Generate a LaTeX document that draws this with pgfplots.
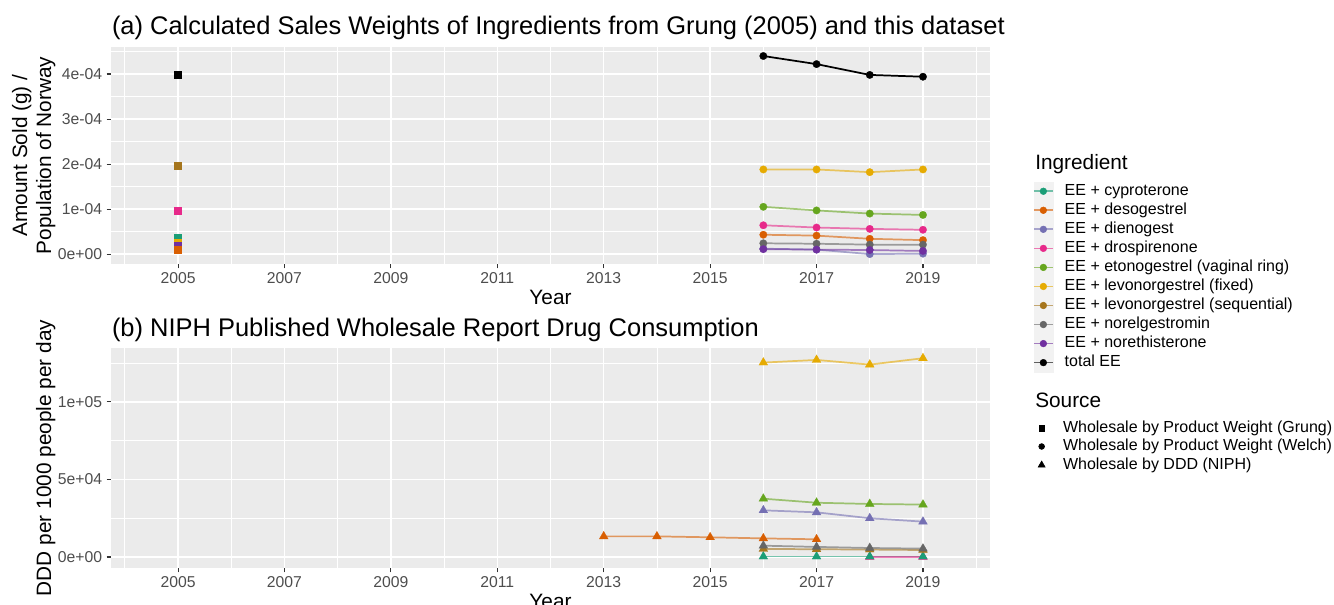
\documentclass[border=0pt]{standalone}
\usepackage{fontspec}
\setmainfont{Liberation Sans}
\usepackage{pgfplots}
\usepackage{pgfplotstable}
\pgfplotsset{compat=1.18}

\definecolor{cT}{HTML}{1B9E77}
\definecolor{cO}{HTML}{D95F02}
\definecolor{cL}{HTML}{7570B3}
\definecolor{cP}{HTML}{E7298A}
\definecolor{cG}{HTML}{66A61E}
\definecolor{cY}{HTML}{E6AB02}
\definecolor{cB}{HTML}{A6761D}
\definecolor{cR}{HTML}{666666}
\definecolor{cV}{HTML}{7030A0}
\definecolor{cK}{HTML}{000000}
\definecolor{gtick}{HTML}{333333}
\definecolor{gtext}{HTML}{4D4D4D}
\definecolor{ggbg}{HTML}{EBEBEB}
\definecolor{gkey}{HTML}{F2F2F2}

\newcommand\ftitle{\fontsize{19.1}{22}\selectfont}
\newcommand\faxis{\fontsize{15.6}{18}\selectfont}
\newcommand\ftick{\fontsize{11.8}{14}\selectfont}
\newcommand\fleg{\fontsize{12}{14}\selectfont}

% ---------- panel (a): Welch (circles) ----------
\pgfplotstableread{
x y
2016 4.40e-4
2017 4.22e-4
2018 3.98e-4
2019 3.94e-4
}\aK
\pgfplotstableread{
x y
2016 1.88e-4
2017 1.88e-4
2018 1.82e-4
2019 1.88e-4
}\aY
\pgfplotstableread{
x y
2016 1.05e-4
2017 0.97e-4
2018 0.90e-4
2019 0.87e-4
}\aG
\pgfplotstableread{
x y
2016 0.64e-4
2017 0.59e-4
2018 0.56e-4
2019 0.54e-4
}\aP
\pgfplotstableread{
x y
2016 0.43e-4
2017 0.41e-4
2018 0.34e-4
2019 0.31e-4
}\aO
\pgfplotstableread{
x y
2016 0.24e-4
2017 0.23e-4
2018 0.21e-4
2019 0.21e-4
}\aR
\pgfplotstableread{
x y
2016 0.12e-4
2017 0.10e-4
2018 0.00e-4
2019 0.01e-4
}\aL
\pgfplotstableread{
x y
2016 0.11e-4
2017 0.10e-4
2018 0.09e-4
2019 0.07e-4
}\aV
% ---------- panel (a): Grung 2005 (squares) ----------
\pgfplotstableread{
x y
2005 3.98e-4
}\gK
\pgfplotstableread{
x y
2005 1.96e-4
}\gB
\pgfplotstableread{
x y
2005 0.96e-4
}\gP
\pgfplotstableread{
x y
2005 0.36e-4
}\gT
\pgfplotstableread{
x y
2005 0.25e-4
}\gY
\pgfplotstableread{
x y
2005 0.18e-4
}\gV
\pgfplotstableread{
x y
2005 0.10e-4
}\gO
% ---------- panel (b): NIPH DDD (triangles) ----------
\pgfplotstableread{
x y
2016 125400
2017 127100
2018 124100
2019 128200
}\bY
\pgfplotstableread{
x y
2016 37600
2017 35000
2018 34200
2019 33800
}\bG
\pgfplotstableread{
x y
2016 30100
2017 28800
2018 25000
2019 22800
}\bL
\pgfplotstableread{
x y
2013 13300
2014 13300
2015 12700
2016 12000
2017 11400
}\bO
\pgfplotstableread{
x y
2016 7300
2017 6500
2018 5800
2019 5400
}\bR
\pgfplotstableread{
x y
2016 5200
2017 5000
2018 4800
2019 4500
}\bB
\pgfplotstableread{
x y
2016 300
2017 300
2018 300
2019 300
}\bT
\pgfplotstableread{
x y
2018 100
2019 100
}\bP

\pgfplotsset{
 ggpanel/.style={
  scale only axis, width=659.25pt, anchor=south west,
  axis background/.style={fill=ggbg},
  axis line style={draw=none},
  xmin=2003.74, xmax=2020.26,
  xtick={2005,2007,2009,2011,2013,2015,2017,2019},
  xticklabels={2005,2007,2009,2011,2013,2015,2017,2019},
  minor xtick={2004,2006,2008,2010,2012,2014,2016,2018,2020},
  xtick pos=bottom, ytick pos=left,
  grid=both,
  major grid style={draw=white, line width=1.1pt},
  minor grid style={draw=white, line width=0.55pt},
  tick align=outside, major tick length=3.2pt, minor tick length=0pt,
  tick style={draw=gtick, line width=0.8pt},
  ticklabel style={font=\ftick, text=gtext},
  scaled y ticks=false,
  label style={font=\faxis},
  xlabel={Year},
  xlabel shift=-2.5pt,
  ylabel shift=-5pt,
  clip=true,
 },
 ln/.style={no marks, line width=1.3pt, draw=#1, draw opacity=0.6},
 ptc/.style={only marks, mark=*, mark size=2.8pt, mark options={draw=#1, fill=#1, line width=0.2pt}},
 pts/.style={only marks, mark=square*, mark size=2.6pt, mark options={draw=#1, fill=#1, line width=0.2pt}},
 ptt/.style={only marks, mark=triangle*, mark size=3.8pt, mark options={draw=#1, fill=#1, line width=0.2pt}},
}

\begin{document}
\begin{tikzpicture}
\useasboundingbox (0pt,0pt) rectangle (1000.5pt,453pt);

% ================= panel (a) =================
\begin{axis}[ggpanel, at={(83.25pt,255pt)}, height=162.75pt,
  ymin=-0.22e-4, ymax=4.60e-4,
  ytick={0,1e-4,2e-4,3e-4,4e-4},
  yticklabels={0e+00,1e-04,2e-04,3e-04,4e-04},
  minor ytick={0.5e-4,1.5e-4,2.5e-4,3.5e-4,4.5e-4},
  ylabel={Amount Sold (g) /\\Population of Norway},
  ylabel style={align=center},
]
% lines
\addplot[ln=cO] table {\aO};
\addplot[ln=cL] table {\aL};
\addplot[ln=cP] table {\aP};
\addplot[ln=cG] table {\aG};
\addplot[ln=cY] table {\aY};
\addplot[ln=cR] table {\aR};
\addplot[ln=cV] table {\aV};
\addplot[ln=black, draw opacity=1] table {\aK};
% points (Welch)
\addplot[ptc=cO] table {\aO};
\addplot[ptc=cL] table {\aL};
\addplot[ptc=cP] table {\aP};
\addplot[ptc=cG] table {\aG};
\addplot[ptc=cY] table {\aY};
\addplot[ptc=cR] table {\aR};
\addplot[ptc=cV] table {\aV};
\addplot[ptc=black] table {\aK};
% points (Grung)
\addplot[pts=cT] table {\gT};
\addplot[pts=cY] table {\gY};
\addplot[pts=cV] table {\gV};
\addplot[pts=cO] table {\gO};
\addplot[pts=cP] table {\gP};
\addplot[pts=cB] table {\gB};
\addplot[pts=black] table {\gK};
\end{axis}

% ================= panel (b) =================
\begin{axis}[ggpanel, at={(83.25pt,27pt)}, height=165pt,
  ymin=-7100, ymax=134800,
  ytick={0,50000,100000},
  yticklabels={0e+00,5e+04,1e+05},
  minor ytick={25000,75000,125000},
  ylabel={DDD per 1000 people per day},
]
% lines
\addplot[ln=cT] table {\bT};
\addplot[ln=cO] table {\bO};
\addplot[ln=cL] table {\bL};
\addplot[ln=cP] table {\bP};
\addplot[ln=cG] table {\bG};
\addplot[ln=cY] table {\bY};
\addplot[ln=cB] table {\bB};
\addplot[ln=cR] table {\bR};
% points
\addplot[ptt=cP] table {\bP};
\addplot[ptt=cT] table {\bT};
\addplot[ptt=cO] table {\bO};
\addplot[ptt=cL] table {\bL};
\addplot[ptt=cG] table {\bG};
\addplot[ptt=cY] table {\bY};
\addplot[ptt=cB] table {\bB};
\addplot[ptt=cR] table {\bR};
\end{axis}

% ================= legend: Ingredient =================
\begin{axis}[at={(0pt,0pt)}, anchor=south west, scale only axis,
  width=1000.5pt, height=453pt, hide axis,
  xmin=0, xmax=1, ymin=0, ymax=1,
  legend cell align=left,
  legend style={at={(0.77436,0.6991)}, anchor=north west, draw=none, fill=none,
    font=\fleg, inner sep=0pt, outer sep=0pt, row sep=0pt, column sep=8.25pt,
    nodes={inner sep=0pt, text height=8.6pt, text depth=2.4pt}},
  legend image code/.code={
    \fill[gkey] (0pt,-6.94pt) rectangle (14.25pt,6.94pt);
    \draw[#1, line width=1.3pt, draw opacity=0.6] (0pt,0pt) -- (14.25pt,0pt);
    \fill[#1] (7.125pt,0pt) circle (2.5pt);
  },
]
\addlegendimage{cT}\addlegendentry{EE + cyproterone}
\addlegendimage{cO}\addlegendentry{EE + desogestrel}
\addlegendimage{cL}\addlegendentry{EE + dienogest}
\addlegendimage{cP}\addlegendentry{EE + drospirenone}
\addlegendimage{cG}\addlegendentry{EE + etonogestrel (vaginal ring)}
\addlegendimage{cY}\addlegendentry{EE + levonorgestrel (fixed)}
\addlegendimage{cB}\addlegendentry{EE + levonorgestrel (sequential)}
\addlegendimage{cR}\addlegendentry{EE + norelgestromin}
\addlegendimage{cV}\addlegendentry{EE + norethisterone}
\addlegendimage{black}\addlegendentry{total EE}
\end{axis}

% ================= legend: Source =================
\begin{axis}[at={(0pt,0pt)}, anchor=south west, scale only axis,
  width=1000.5pt, height=453pt, hide axis,
  xmin=0, xmax=1, ymin=0, ymax=1,
  legend cell align=left,
  legend style={at={(0.77436,0.3067)}, anchor=north west, draw=none, fill=none,
    font=\fleg, inner sep=0pt, outer sep=0pt, row sep=0pt, column sep=8.25pt,
    nodes={inner sep=0pt, text height=8.6pt, text depth=2.4pt}},
  legend image code/.code={
    \path[draw=none, fill=none] (0pt,-6.94pt) rectangle (14.25pt,6.94pt);
    \draw[#1] plot[only marks] coordinates {(6.5pt,0pt)};
  },
]
\addlegendimage{black, mark=square*, mark size=2.1pt}\addlegendentry{Wholesale by Product Weight (Grung)}
\addlegendimage{black, mark=*, mark size=2.2pt}\addlegendentry{Wholesale by Product Weight (Welch)}
\addlegendimage{black, mark=triangle*, mark size=3pt}\addlegendentry{Wholesale by DDD (NIPH)}
\end{axis}

% ================= titles =================
\node[anchor=base west, inner sep=0pt, font=\ftitle] at (83.8pt,426.75pt)
  {(a) Calculated Sales Weights of Ingredients from Grung (2005) and this dataset};
\node[anchor=base west, inner sep=0pt, font=\ftitle] at (83.8pt,201pt)
  {(b) NIPH Published Wholesale Report Drug Consumption};
\node[anchor=base west, inner sep=0pt, font=\faxis] at (776.25pt,326pt) {Ingredient};
\node[anchor=base west, inner sep=0pt, font=\faxis] at (776.25pt,147.5pt) {Source};
\end{tikzpicture}
\end{document}
